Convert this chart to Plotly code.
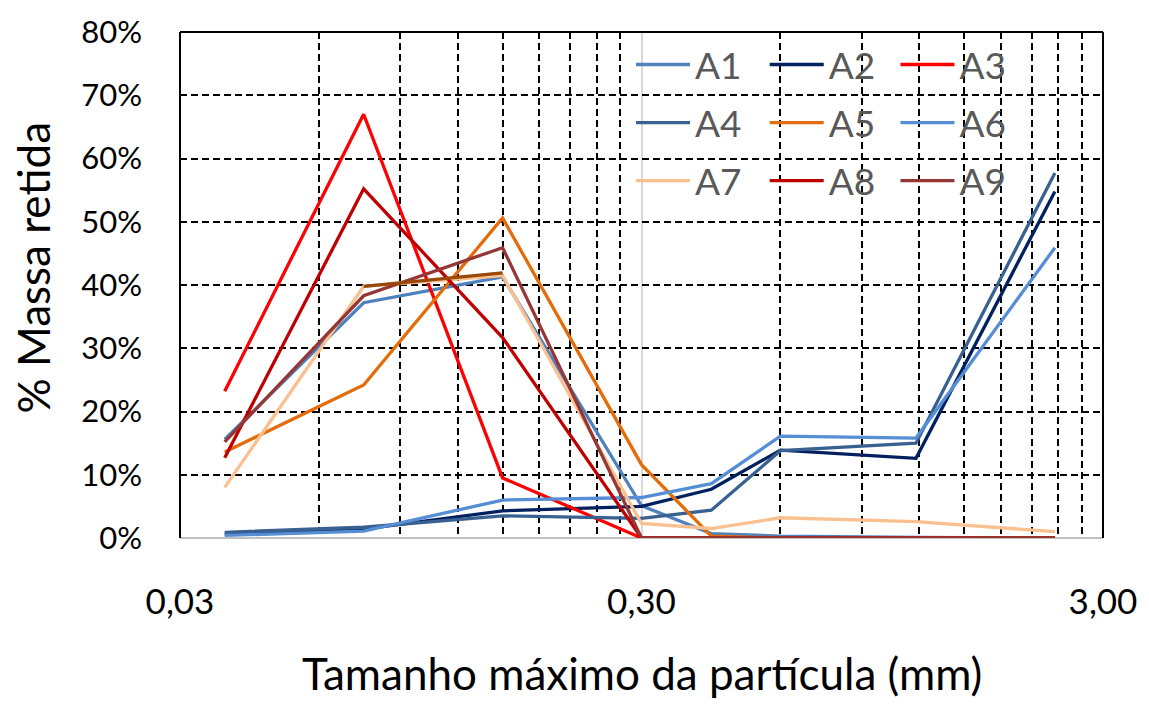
import plotly.graph_objects as go

# Sieve sizes (mm)
sizes = [0.0375, 0.075, 0.15, 0.30, 0.425, 0.60, 1.18, 2.36]

# % mass retained per sample
A1 = [15.6, 37.2, 41.3, 5.1, 0.7, 0.3, 0.1, 0.0]
A2 = [0.6, 1.4, 4.3, 5.0, 7.7, 13.9, 12.6, 54.8]
A3 = [23.2, 67.0, 9.5, 0.0, 0.0, 0.0, 0.0, 0.0]
A4 = [0.9, 1.7, 3.5, 3.1, 4.4, 13.8, 15.0, 57.7]
A5 = [13.6, 24.2, 50.6, 11.6, 0.3, 0.0, 0.0, 0.0]
A6 = [0.4, 1.1, 6.0, 6.4, 8.6, 16.1, 15.8, 45.9]
A7 = [8.0, 39.8, 41.5, 2.3, 1.5, 3.2, 2.6, 1.0]
A8 = [12.7, 55.2, 31.7, 0.0, 0.0, 0.0, 0.0, 0.0]
A9 = [15.2, 38.3, 45.9, 0.0, 0.0, 0.0, 0.0, 0.0]
A7_seg = [None, 39.8, 41.9, None, None, None, None, None]

series_names = ["A1", "A2", "A3", "A4", "A5", "A6", "A7", "A8", "A9"]
series_vals = [A1, A2, A3, A4, A5, A6, A7, A8, A9]
colors = ["#4F81BD", "#002060", "#FF0000", "#386192", "#E46C0A",
          "#558ED5", "#FAC090", "#C00000", "#953735"]

x_tickvals = [0.03, 0.3, 3.0]
x_ticktext = ["0,03", "0,30", "3,00"]
x_minor = [0.06, 0.09, 0.12, 0.15, 0.18, 0.21, 0.24, 0.27,
           0.6, 0.9, 1.2, 1.5, 1.8, 2.1, 2.4, 2.7]
y_tickvals = [0, 10, 20, 30, 40, 50, 60, 70, 80]
y_ticktext = ["0%", "10%", "20%", "30%", "40%", "50%", "60%", "70%", "80%"]

FONT = "Lato, 'Open Sans', sans-serif"
legend_cols = {0: "legend", 1: "legend2", 2: "legend3"}

fig = go.Figure()
for i, (name, vals, col) in enumerate(zip(series_names, series_vals, colors)):
    fig.add_trace(go.Scatter(
        x=sizes, y=vals, name=name, mode="lines",
        line=dict(color=col, width=3.3),
        legend=legend_cols[i % 3], legendgroup=name,
    ))
fig.add_trace(go.Scatter(
    x=sizes, y=A7_seg, name="A7", mode="lines", showlegend=False,
    line=dict(color="#984807", width=3.3), connectgaps=False,
))

L, R, T, B = 180, 44, 24, 166
W, H = 1149, 704
pw = W - L - R
ph = H - T - B

def px2paperx(px):
    return (px - L) / pw

def py2papery(py):
    return 1 - (py - T) / ph

grid_dash = "7px,4px"
leg_common = dict(font=dict(family=FONT, size=37, color="#595959"),
                  bgcolor="rgba(0,0,0,0)", borderwidth=0,
                  xanchor="left", yanchor="top", traceorder="grouped",
                  tracegroupgap=7, itemwidth=54)
legy = py2papery(26)

fig.update_layout(
    width=W, height=H,
    margin=dict(l=L, r=R, t=T, b=B),
    paper_bgcolor="white", plot_bgcolor="white",
    font=dict(family=FONT, color="black"),
    legend=dict(x=px2paperx(632), y=legy, **leg_common),
    legend2=dict(x=px2paperx(766), y=legy, **leg_common),
    legend3=dict(x=px2paperx(897), y=legy, **leg_common),
    xaxis=dict(
        type="log", range=[-1.5228787, 0.4771213],
        tickmode="array", tickvals=x_tickvals, ticktext=x_ticktext,
        showgrid=True, gridcolor="#D9D9D9", gridwidth=1.5,
        ticks="", showline=False, zeroline=False,
        tickfont=dict(family=FONT, size=35, color="black"),
        ticklabelstandoff=40,
        minor=dict(tickmode="array", tickvals=x_minor, showgrid=True,
                   gridcolor="black", gridwidth=1.8, griddash=grid_dash,
                   ticks=""),
    ),
    yaxis=dict(
        range=[0, 80], tickmode="array", tickvals=y_tickvals,
        ticktext=y_ticktext, showgrid=True, gridcolor="black", gridwidth=1.8,
        griddash=grid_dash, ticks="", showline=False,
        zeroline=True, zerolinecolor="#BFBFBF", zerolinewidth=2,
        tickfont=dict(family=FONT, size=31, color="black"),
        ticklabelstandoff=37,
    ),
    shapes=[
        # white legend backdrop (between grid and traces)
        dict(type="rect", xref="paper", yref="paper",
             x0=px2paperx(622), x1=px2paperx(1027),
             y0=py2papery(215), y1=py2papery(38),
             fillcolor="white", line=dict(width=0), layer="between"),
        # plot border: top, left, right black
        dict(type="line", xref="paper", yref="paper", x0=0, x1=1, y0=1, y1=1,
             line=dict(color="black", width=2), layer="above"),
        dict(type="line", xref="paper", yref="paper", x0=0, x1=0, y0=0, y1=1,
             line=dict(color="black", width=2), layer="above"),
        dict(type="line", xref="paper", yref="paper", x0=1, x1=1, y0=0, y1=1,
             line=dict(color="black", width=2), layer="above"),
    ],
    annotations=[
        dict(text="Tamanho máximo da partícula (mm)", xref="paper", yref="paper",
             x=px2paperx(643), y=py2papery(675), xanchor="center", yanchor="middle",
             showarrow=False, font=dict(family=FONT, size=44, color="black")),
        dict(text="% Massa retida", xref="paper", yref="paper",
             x=px2paperx(33), y=py2papery(263), xanchor="center", yanchor="middle",
             textangle=-90, showarrow=False,
             font=dict(family=FONT, size=44, color="black")),
    ],
)

fig.write_html("out.html",
               config={"displayModeBar": False},
               post_script="document.body.style.margin='0px';"
                           "document.body.style.overflow='hidden';")
